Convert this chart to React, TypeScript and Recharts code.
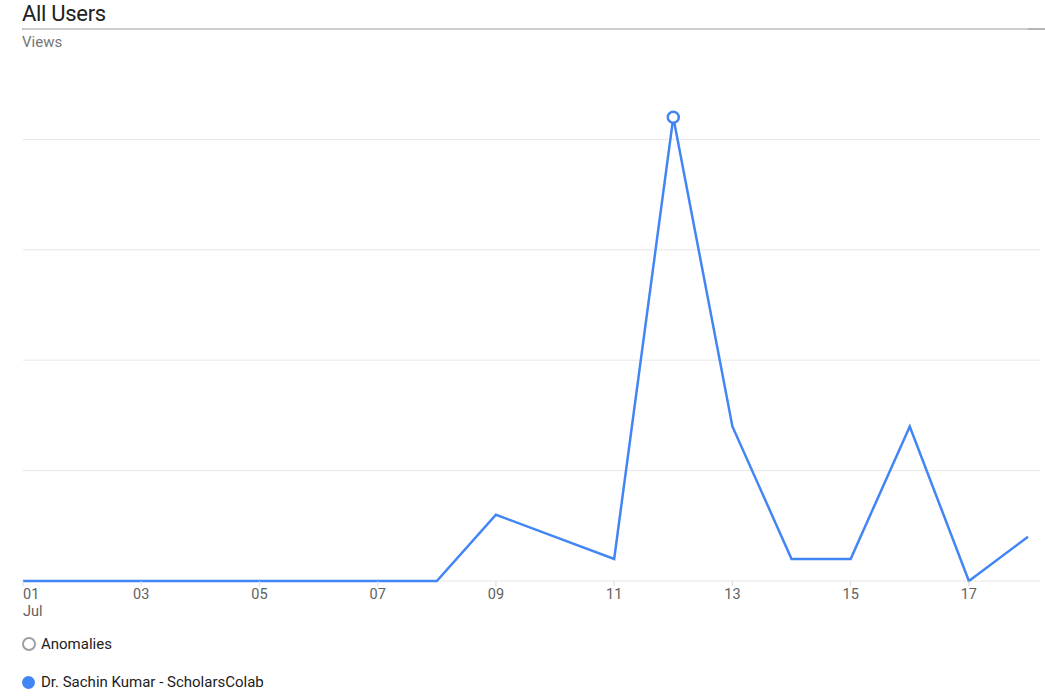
import React from 'react';
import { LineChart, Line, XAxis, YAxis, CartesianGrid, Legend } from 'recharts';

const days = [1, 2, 3, 4, 5, 6, 7, 8, 9, 10, 11, 12, 13, 14, 15, 16, 17, 18];
const views = [0, 0, 0, 0, 0, 0, 0, 0, 3, 2, 1, 21, 7, 1, 1, 7, 0, 2];
const anomalyDays = [12];
const xTicks = [1, 3, 5, 7, 9, 11, 13, 15, 17];
const yTicks = [0, 5, 10, 15, 20];
const monthLabel = 'Jul';
const seriesName = 'Dr. Sachin Kumar - ScholarsColab';

const data = days.map((d, i) => ({
  day: d,
  views: views[i],
  anomaly: anomalyDays.includes(d) ? views[i] : null,
}));

const FONT = 'Roboto, "Noto Sans", sans-serif';

const DayTick = (props: any) => {
  const { x, y, payload, index } = props;
  const first = index === 0;
  const label = String(payload.value).padStart(2, '0');
  return (
    <g>
      <text x={x} y={y + 11} textAnchor={first ? 'start' : 'middle'} fill="#5f5f5f" fontSize={14.5} fontFamily={FONT}>
        {label}
      </text>
      {first && (
        <text x={x} y={y + 28} textAnchor="start" fill="#5f5f5f" fontSize={14.5} fontFamily={FONT}>
          {monthLabel}
        </text>
      )}
    </g>
  );
};

const EmptyTick = () => <g />;

const LegendContent = () => (
  <div style={{ fontFamily: FONT, fontSize: 15, color: '#212121' }}>
    <div style={{ display: 'flex', alignItems: 'center', height: 20 }}>
      <span style={{ width: 10, height: 10, borderRadius: '50%', border: '2px solid #9aa0a6', display: 'inline-block', marginRight: 5 }} />
      Anomalies
    </div>
    <div style={{ display: 'flex', alignItems: 'center', height: 20, marginTop: 18 }}>
      <span style={{ width: 13, height: 13, borderRadius: '50%', background: '#4285f4', display: 'inline-block', marginRight: 6 }} />
      {seriesName}
    </div>
  </div>
);

export default function App() {
  return (
    <div style={{ position: 'absolute', left: 0, top: 0, width: 1045, height: 697, background: '#fff', overflow: 'hidden' }}>
      <div style={{ position: 'absolute', left: 22, top: 1, fontFamily: FONT, fontSize: 22, color: '#212121', letterSpacing: -0.3 }}>All Users</div>
      <div style={{ position: 'absolute', left: 22, top: 28, width: 1023, height: 2, background: '#b5b5b5' }} />
      <div style={{ position: 'absolute', left: 22, top: 33, fontFamily: FONT, fontSize: 15, color: '#757575' }}>Views</div>
      <LineChart width={1045} height={697} data={data} margin={{ top: 29, right: 0, left: 23, bottom: 76 }}>
        <CartesianGrid horizontal vertical={false} stroke="#e6e6e6" />
        <XAxis
          dataKey="day"
          type="number"
          domain={[1, 18]}
          ticks={xTicks}
          tick={<DayTick />}
          tickLine={{ stroke: '#dcdcdc' }}
          tickSize={5}
          axisLine={false}
          height={40}
          interval={0}
        />
        <YAxis
          orientation="right"
          width={17}
          domain={[0, 25]}
          ticks={yTicks}
          tick={<EmptyTick />}
          tickSize={17}
          tickLine={{ stroke: '#e6e6e6', strokeDasharray: '0 5 12 5' }}
          axisLine={false}
          interval={0}
        />
        <Line
          dataKey="views"
          type="linear"
          stroke="#4285f4"
          strokeWidth={2.5}
          dot={false}
          activeDot={false}
          isAnimationActive={false}
          name={seriesName}
        />
        <Line
          dataKey="anomaly"
          type="linear"
          stroke="none"
          dot={{ r: 5.5, fill: '#fff', stroke: '#4285f4', strokeWidth: 2.5 }}
          activeDot={false}
          isAnimationActive={false}
          name="Anomalies"
          legendType="circle"
        />
        <Legend
          layout="horizontal"
          align="center"
          verticalAlign="middle"
          content={<LegendContent />}
          wrapperStyle={{ position: 'absolute', left: 22, top: 634, width: 400, height: 60 }}
        />
      </LineChart>
    </div>
  );
}
